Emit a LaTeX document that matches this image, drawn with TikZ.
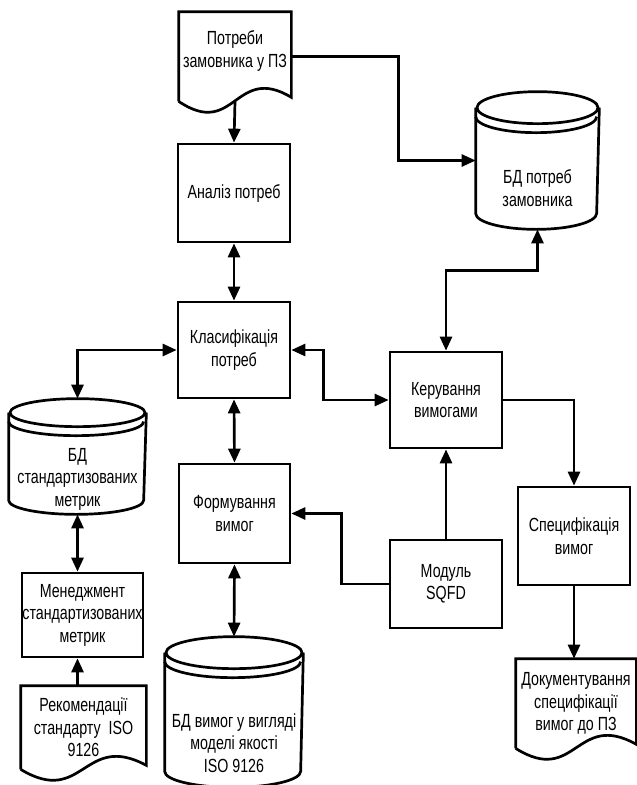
\documentclass[tikz,border=0pt]{standalone}
\usepackage{fontspec}
\setmainfont{Liberation Sans}[FakeStretch=0.75]
\usetikzlibrary{arrows.meta,calc}

% cylinder outline round an empty node: name, x radius, y radius
\newcommand{\dbdraw}[3]{%
  \draw ($(#1.north)+(0,#3)$) ellipse [x radius=#2, y radius=#3];
  \draw ($(#1.north west)+(0,#3)$) -- ($(#1.south west)+(0,-#3)$) arc [start angle=180, end angle=0, x radius=#2, y radius=#3] -- ($(#1.north east)+(0,#3)$);
  \draw ($(#1.north west)+(0,#3+9)$) arc [start angle=180, end angle=0, x radius=#2, y radius=#3];
}
% document outline with wavy bottom
\newcommand{\docdraw}[1]{%
  \draw (#1.south west) -- (#1.north west) -- (#1.north east) -- ($(#1.south east)+(0,-4)$) .. controls ($(#1.south)+(0,-38)$) and ($(#1.south)+(0,38)$) .. (#1.south west);
}

\begin{document}
\begin{tikzpicture}[x=1pt,y=1pt,yscale=-1,xscale=1,line width=2.7pt,
  >={Triangle[length=14pt,width=12pt]},
  every node/.style={font=\fontsize{19}{22.5}\selectfont, align=center, inner sep=0pt},
  box/.style={draw, minimum width=112pt, minimum height=98pt},
  docnode/.style={minimum width=112pt, minimum height=87pt},
  dbnode/.style={minimum width=121pt, minimum height=135pt}]
\useasboundingbox (0,0) rectangle (637,785);

%Shape: Document
\node[docnode, minimum width=110pt] (potreby) at (235,56.5) {};
\docdraw{potreby}
\node (potrebytext) at (235,51) {Потреби\\замовника у ПЗ};
%Shape: Rectangle
\node[box] (analiz) at (234,193) {Аналіз потреб};
\node[box, minimum height=96pt] (klas) at (234,350) {Класифікація\\потреб};
\node[box, minimum width=111pt, minimum height=99pt] (formuv) at (234.5,513.5) {Формування\\вимог};
\node[box, minimum height=96pt] (ker) at (446,400) {Керування\\вимогами};
\node[box, minimum height=88pt] (sqfd) at (446,584) {Модуль\\SQFD};
\node[box] (spec) at (574,536) {Специфікація\\вимог};
\node[box, minimum width=121pt, minimum height=84pt] (men) at (82.5,615) {Менеджмент\\стандартизованих\\метрик};
%Shape: Document
\node[docnode, minimum width=123pt, minimum height=81pt] (rek) at (83.5,727.5) {Рекомендації\\стандарту\ \ ISO\\9126};
\docdraw{rek}
\node[docnode, minimum width=118pt] (dok) at (576,703.5) {Документування\\специфікації\\вимог до ПЗ};
\docdraw{dok}

%Shape: Can
\node[dbnode] (bdp) at (537.5,160.5) {};
\dbdraw{bdp}{60.5}{16}
\node (bdptext) at (537.5,188) {БД потреб\\замовника};
\node[dbnode, minimum width=135pt, minimum height=113pt] (bds) at (77.5,456.5) {};
\dbdraw{bds}{67.5}{14}
\node (bdstext) at (77.5,479) {БД\\стандартизованих\\метрик};
\node[dbnode, minimum width=136pt, minimum height=148pt] (bdv) at (234,712) {};
\dbdraw{bdv}{68}{16}
\node (bdvtext) at (234,743) {БД вимог у вигляді\\моделі якості\\ISO 9126};

%Straight Lines
\draw[->] (potreby.south) -- (analiz.north);
\draw[->] (potreby.east) -- ++(107,0) |- (bdp.west);
\draw[<->] (analiz.south) -- (klas.north);
\draw[<->] (klas.south) -- (formuv.north);
\draw[<->] (formuv.south) -- (bdv.north);
\draw[<->] (klas.west) -| (bds.north);
\draw[<->] (bds.south) -- (bds.south |- men.north);
\draw[->] (bds.south |- rek.north) -- (bds.south |- men.south);
\draw[<->] (klas.east) -- ++(32,0) |- (ker.west);
\draw[<->] (bdp.south) -- ++(0,41) -| (ker.north);
\draw[->] (ker.east) -| (spec.north);
\draw[->] (sqfd.north) -- (ker.south);
\draw[->] (sqfd.west) -- ++(-47,0) |- (formuv.east);
\draw[->] (spec.south) -- (spec.south |- dok.north);
\end{tikzpicture}
\end{document}
